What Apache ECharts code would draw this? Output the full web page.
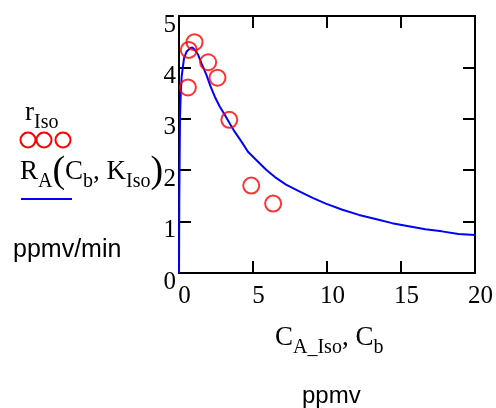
<!DOCTYPE html>
<html>
<head>
<meta charset="utf-8">
<script src="https://cdn.jsdelivr.net/npm/echarts@6/dist/echarts.min.js"></script>
<style>
  html, body { margin: 0; padding: 0; background: #fff; }
  #chart { width: 496px; height: 408px; }
</style>
</head>
<body>
<div id="chart"></div>
<script>
// measured points r_Iso (C_A_Iso, ppmv -> ppmv/min)
const measX = [0.6, 0.66, 1.05, 1.97, 2.6, 3.4, 4.88, 6.36]
const measY = [3.61, 4.34, 4.49, 4.10, 3.80, 2.98, 1.70, 1.35]

// model curve R_A(C_b, K_Iso)
const modelX = [0, 0.02, 0.07, 0.11, 0.18, 0.34, 0.52, 0.74, 0.9, 1.08, 1.3, 1.52, 1.86, 2.13, 2.42, 2.75, 3.09, 3.43, 3.76, 4.21, 4.66, 5.22, 5.89, 6.56, 7.23, 8.13, 9.03, 9.92, 11.04, 12.16, 13.28, 14.4, 15.52, 16.64, 17.76, 18.88, 20]
const modelY = [0, 1.42, 3.04, 3.43, 3.82, 4.18, 4.31, 4.37, 4.39, 4.34, 4.24, 4.08, 3.85, 3.63, 3.43, 3.24, 3.08, 2.91, 2.75, 2.56, 2.36, 2.2, 2.01, 1.85, 1.72, 1.59, 1.46, 1.35, 1.23, 1.13, 1.05, 0.97, 0.91, 0.85, 0.81, 0.76, 0.74]

const xTicks = [0, 5, 10, 15, 20]
const yTicks = [0, 1, 2, 3, 4, 5]

const serif = '"Liberation Serif", "DejaVu Serif", serif'
const sans = '"Liberation Sans", Arial, sans-serif'

const rich = {
  m: { fontFamily: serif, fontSize: 27, color: '#000' },
  s: { fontFamily: serif, fontSize: 20, color: '#000', padding: [20, 0, 0, 0] },
  p: { fontFamily: serif, fontSize: 38, color: '#000' }
}

const tick = () => ({ show: true, inside: true, length: 12, lineStyle: { color: '#000', width: 2 } })
const line = () => ({ show: true, onZero: false, lineStyle: { color: '#000', width: 2 } })

const chart = echarts.init(document.getElementById('chart'))
chart.setOption({
  animation: false,
  grid: { left: 179, right: 19, top: 16, bottom: 135 },
  xAxis: [{
    type: 'value', min: xTicks[0], max: xTicks[xTicks.length - 1], interval: 5,
    axisLine: line(), axisTick: tick(), splitLine: { show: false },
    axisLabel: { fontFamily: serif, fontSize: 25, color: '#000', margin: 11, padding: [0, 0, 0, 11] }
  }, {
    type: 'value', position: 'top', min: 0, max: 20, interval: 5,
    axisLine: line(), axisTick: tick(), splitLine: { show: false }, axisLabel: { show: false }
  }],
  yAxis: [{
    type: 'value', min: yTicks[0], max: yTicks[yTicks.length - 1], interval: 1,
    axisLine: line(), axisTick: tick(), splitLine: { show: false },
    axisLabel: { fontFamily: serif, fontSize: 25, color: '#000', margin: 3, verticalAlign: 'top', lineHeight: 18 }
  }, {
    type: 'value', position: 'right', min: 0, max: 5, interval: 1,
    axisLine: line(), axisTick: tick(), splitLine: { show: false }, axisLabel: { show: false }
  }],
  series: [{
    type: 'line',
    data: modelX.map((x, i) => [x, modelY[i]]),
    showSymbol: false,
    lineStyle: { color: '#0000ff', width: 2 },
    z: 3
  }, {
    type: 'scatter',
    data: measX.map((x, i) => [x, measY[i]]),
    symbol: 'circle',
    symbolSize: 16,
    itemStyle: { color: 'rgba(0,0,0,0)', borderColor: '#ff0000', borderWidth: 2 },
    z: 4
  }],
  graphic: [
    { type: 'text', left: 25, top: 99, style: { text: '{m|r}{s|Iso}', rich } },
    { type: 'circle', shape: { cx: 28, cy: 140, r: 7.5 }, style: { fill: 'none', stroke: '#ff0000', lineWidth: 2 } },
    { type: 'circle', shape: { cx: 44, cy: 140, r: 7.5 }, style: { fill: 'none', stroke: '#ff0000', lineWidth: 2 } },
    { type: 'circle', shape: { cx: 63, cy: 140, r: 7.5 }, style: { fill: 'none', stroke: '#ff0000', lineWidth: 2 } },
    { type: 'text', left: 20, top: 153, style: { text: '{m|R}{s|A}{p|(}{m|C}{s|b}{m|, K}{s|Iso}{p|)}', rich } },
    { type: 'line', shape: { x1: 21, y1: 199, x2: 72, y2: 199 }, style: { stroke: '#0000ff', lineWidth: 2 } },
    { type: 'text', left: 13, top: 238, style: { text: 'ppmv/min', font: '25px ' + sans, fill: '#000' } },
    { type: 'text', left: 275, top: 324, style: { text: '{m|C}{s|A_Iso}{m|, C}{s|b}', rich } },
    { type: 'text', left: 302, top: 384, style: { text: 'ppmv', font: '24px ' + sans, fill: '#000' } }
  ]
})
</script>
</body>
</html>
